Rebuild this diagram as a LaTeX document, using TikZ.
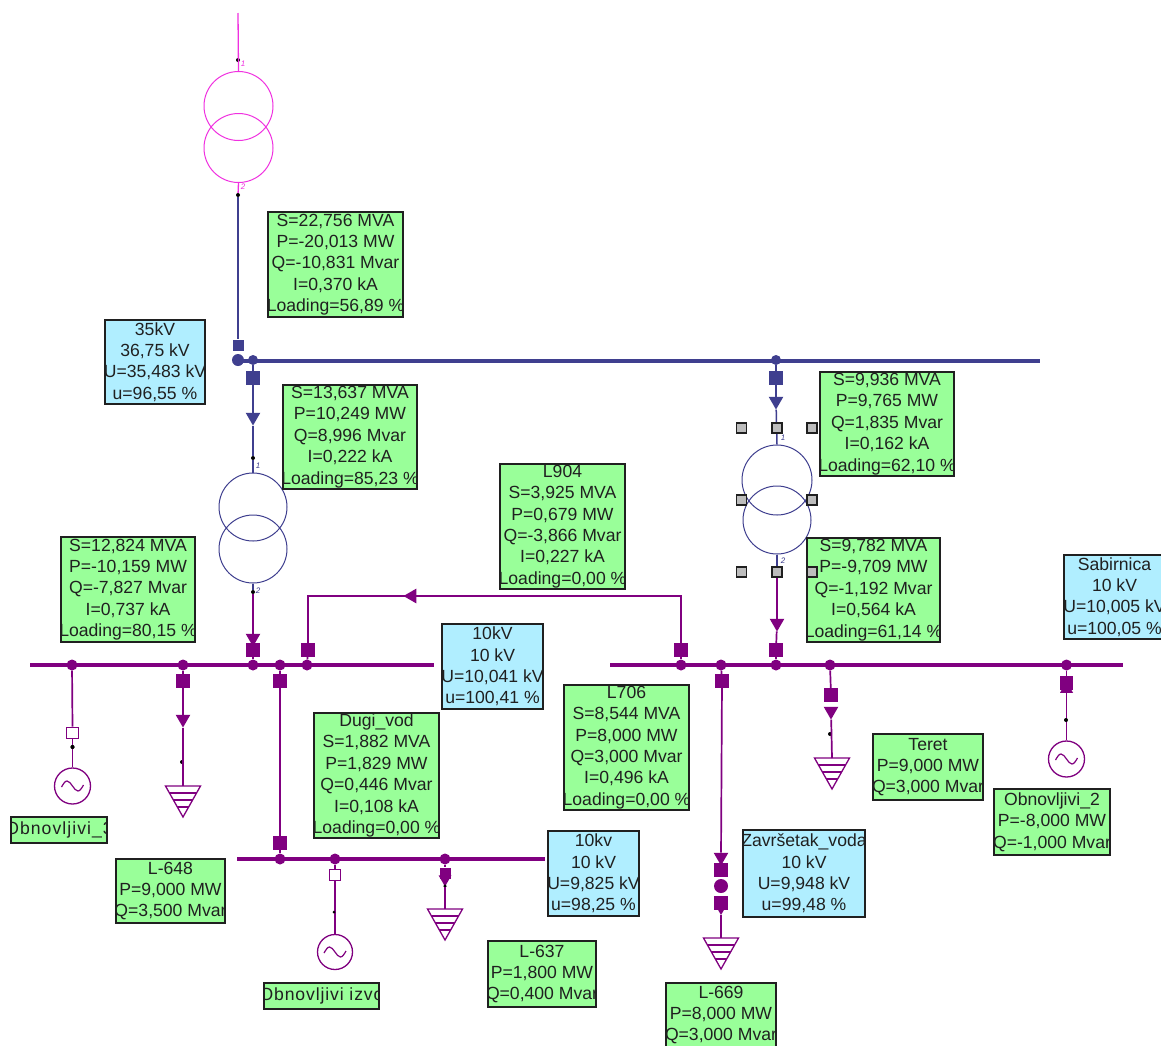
\documentclass[tikz,border=0pt]{standalone}
\usepackage{fontspec}
\setmainfont{Liberation Sans}
\usetikzlibrary{shapes.geometric}
\definecolor{navyl}{HTML}{3F3F8F}
\definecolor{purp}{HTML}{800080}
\definecolor{magl}{HTML}{F030E0}
\definecolor{boxgreen}{HTML}{99FF99}
\definecolor{boxblue}{HTML}{B0EEFF}
\definecolor{inkc}{HTML}{202020}
\definecolor{handle}{HTML}{BDBDBD}
\tikzset{
  infobox/.style={rectangle,draw=inkc,line width=1.3pt,inner sep=0pt},
  boxtext/.style={inner sep=0pt,align=center,text=inkc,font=\fontsize{17.6}{21.4}\selectfont},
  busdot/.style={circle,inner sep=0pt,minimum size=11pt},
  sqr/.style={rectangle,inner sep=0pt,minimum size=13.5pt},
  wsqr/.style={rectangle,fill=white,line width=1.3pt,inner sep=0pt,minimum size=11.5pt},
  trid/.style={regular polygon,regular polygon sides=3,shape border rotate=180,inner sep=0pt,minimum size=17pt},
  triu/.style={regular polygon,regular polygon sides=3,inner sep=0pt,minimum size=17pt},
  tril/.style={regular polygon,regular polygon sides=3,shape border rotate=90,inner sep=0pt,minimum size=17pt},
  tick/.style={circle,fill=black,inner sep=0pt,minimum size=4pt},
  handlebox/.style={rectangle,draw=inkc,fill=handle,line width=1.1pt,inner sep=0pt,minimum size=10pt},
  wind/.style={circle,inner sep=0pt,line width=1pt,minimum size=#1},
  gen/.style={circle,inner sep=0pt,line width=1.3pt,minimum size=#1},
  buspur/.style={purp,line width=4pt},
  busnav/.style={navyl,line width=4pt},
  linepur/.style={purp,line width=1.7pt},
  linenav/.style={navyl,line width=1.5pt},
  linemag/.style={magl,line width=1.3pt},
  numlab/.style={inner sep=0pt,font=\fontsize{8}{8}\selectfont\itshape}
}
% name, x1, y1, x2, y2, colour, text
\newcommand{\ibox}[7]{%
  \pgfmathsetmacro{\ww}{#4-#2}\pgfmathsetmacro{\hh}{#5-#3}%
  \node[infobox,fill=#6,minimum width=\ww pt,minimum height=\hh pt] (#1) at ({(#2+#4)/2},{(#3+#5)/2}) {};
  \begin{scope}
    \clip (#1.south west) rectangle (#1.north east);
    \node[boxtext] (#1t) at (#1.center) {#7};
  \end{scope}
  \draw[inkc,line width=1.3pt] (#1.south west) rectangle (#1.north east);
}
\newcommand{\loadsym}[3]{%
  \coordinate (#1) at (#2,#3);
  \begin{scope}[shift={(#1)},purp,line width=1.3pt]
    \draw (-17.5,0) -- (17.5,0) -- (0,31) -- cycle;
    \draw (-13.6,7) -- (13.6,7);
    \draw (-9.6,14) -- (9.6,14);
    \draw (-5.6,21) -- (5.6,21);
  \end{scope}
}
\newcommand{\sinewave}[1]{%
  \draw[shift={(#1)},purp,line width=1.2pt] (-11,1) sin (-5.5,-5) cos (0,0) sin (5.5,5) cos (11,-1);
}
\begin{document}
\begin{tikzpicture}[x=1pt,y=-1pt]
\useasboundingbox (0,0) rectangle (1161,1045);
\fill[white] (0,0) rectangle (1161,1045);

% --- buses
\coordinate (b35l) at (237,360.5);
\coordinate (b35r) at (1040,360.5);
\coordinate (bLl) at (30,665);
\coordinate (bLr) at (434,665);
\coordinate (bRl) at (610,665);
\coordinate (bRr) at (1123,665);
\coordinate (bBl) at (237,859);
\coordinate (bBr) at (545,859);
\draw[busnav] (b35l) -- (b35r);
\draw[buspur] (bLl) -- (bLr);
\draw[buspur] (bRl) -- (bRr);
\draw[buspur] (bBl) -- (bBr);

% --- 35 kV bus nodes
\node[busdot,fill=navyl,minimum size=12pt] (n35a) at (238,360) {};
\node[busdot,fill=navyl,minimum size=10pt] (n35b) at (253,360) {};
\node[busdot,fill=navyl,minimum size=10pt] (n35c) at (776,360) {};

% --- top transformer
\coordinate (feed) at (238,13);
\node[wind=69pt,draw=magl] (t1a) at (238.5,106) {};
\node[wind=69pt,draw=magl] (t1b) at (238.5,148) {};
\node[tick] (t1k1) at (238,60) {};
\node[tick] (t1k2) at (238,195) {};
\node[numlab,text=magl] at (243,64) {1};
\node[numlab,text=magl] at (243,187) {2};
\node[sqr,fill=navyl,minimum size=11pt] (t1s) at (238,345) {};
\draw[linemag] (feed) -- (t1a.north);
\draw[linemag] (t1b.south) -- (t1k2);
\draw[linenav] (t1k2) -- (t1s);

% --- second transformer (navy, left)
\node[sqr,fill=navyl] (t2s1) at (253,378) {};
\node[trid,fill=navyl] (t2a1) at (253,417) {};
\node[tick] (t2k1) at (253,458) {};
\node[numlab,text=navyl] at (258,466) {1};
\node[wind=68pt,draw=navyl] (t2a) at (253,507) {};
\node[wind=68pt,draw=navyl] (t2b) at (253,549) {};
\node[tick] (t2k2) at (253,592) {};
\node[numlab,text=navyl] at (258,591) {2};
\node[trid,fill=purp] (t2a2) at (253,638) {};
\node[sqr,fill=purp] (t2s2) at (253,650) {};
\node[busdot,fill=purp] (nL3) at (253,665) {};
\draw[linenav] (n35b) -- (t2s1);
\draw[linenav] (t2s1) -- (t2a1);
\draw[linenav] (t2a1) -- (t2k1);
\draw[linenav] (t2k1) -- (t2a.north);
\draw[linenav] (t2b.south) -- (t2k2);
\draw[linepur] (t2k2) -- (t2a2);
\draw[linepur] (t2s2) -- (nL3);

% --- third transformer (selected, right)
\node[sqr,fill=navyl] (t3s1) at (776,378) {};
\node[trid,fill=navyl] (t3a1) at (776,401) {};
\node[wind=70pt,draw=navyl] (t3a) at (777,480) {};
\node[wind=68pt,draw=navyl] (t3b) at (777,520) {};
\node[numlab,text=navyl] at (783,438) {1};
\node[numlab,text=navyl] at (783,561) {2};
\node[trid,fill=purp] (t3a2) at (777,623) {};
\node[sqr,fill=purp] (t3s2) at (776,650) {};
\node[busdot,fill=purp] (nR3) at (776,665) {};
\draw[linenav] (n35c) -- (t3s1);
\draw[linenav] (t3s1) -- (t3a1);
\draw[linenav] (t3a1) -- (t3a.north);
\draw[linenav] (t3b.south) -- (777,572);
\draw[linepur] (777,572) -- (t3a2);
\draw[linepur] (t3a2) -- (t3s2);
\draw[linepur] (t3s2) -- (nR3);
\node[handlebox] (h1) at (741.5,428) {};
\node[handlebox] (h2) at (777,428) {};
\node[handlebox] (h3) at (812,428) {};
\node[handlebox] (h4) at (741.5,500) {};
\node[handlebox] (h5) at (812,500) {};
\node[handlebox] (h6) at (741.5,572) {};
\node[handlebox] (h7) at (777,572) {};

% --- L904 line between the 10 kV bars
\node[busdot,fill=purp] (nL5) at (307,665) {};
\node[busdot,fill=purp] (nR1) at (681,665) {};
\node[sqr,fill=purp] (lfs1) at (308,650) {};
\node[sqr,fill=purp] (lfs2) at (681,650) {};
\node[tril,fill=purp] (lfa) at (412,596) {};
\coordinate (lfc1) at (308,596);
\coordinate (lfc2) at (681,596);
\draw[linepur] (nL5) -- (lfs1);
\draw[linepur] (lfs1) -- (lfc1) -- (lfc2) -- (lfs2);
\draw[linepur] (lfs2) -- (nR1);

% --- left bar: renewable 3
\node[busdot,fill=purp] (nL1) at (72,665) {};
\node[wsqr,draw=purp] (g3s) at (72.5,733) {};
\node[tick] (g3k) at (72.5,747) {};
\node[gen=36pt,draw=purp] (g3) at (72.5,786) {};
\sinewave{g3}
\draw[linepur] (nL1) -- (g3s.north);
\draw[linepur] (g3s.south) -- (g3.north);
\node[tick] at (72.5,747) {};

% --- left bar: load L-648
\node[busdot,fill=purp] (nL2) at (183,665) {};
\node[sqr,fill=purp] (l1s) at (183,681) {};
\node[trid,fill=purp] (l1a) at (183,719) {};
\node[tick] (l1k) at (182,762) {};
\loadsym{l1}{183}{786}
\draw[linepur] (nL2) -- (l1s);
\draw[linepur] (l1s) -- (l1a);
\draw[linepur] (l1a) -- (l1);

% --- Dugi_vod
\node[busdot,fill=purp] (nL4) at (280,665) {};
\node[sqr,fill=purp] (dvs1) at (280,681) {};
\node[sqr,fill=purp] (dvs2) at (280,843) {};
\node[busdot,fill=purp] (nB1) at (280,859) {};
\draw[linepur] (nL4) -- (dvs1);
\draw[linepur] (dvs1) -- (dvs2);
\draw[linepur] (dvs2) -- (nB1);

% --- bottom bar: renewable source
\node[busdot,fill=purp] (nB2) at (335,859) {};
\node[wsqr,draw=purp] (g1s) at (335,875) {};
\node[gen=35pt,draw=purp] (g1) at (335,952) {};
\sinewave{g1}
\draw[linepur] (nB2) -- (g1s.north);
\draw[linepur] (g1s.south) -- (g1.north);
\node[tick,minimum size=3pt] at (334,912) {};

% --- bottom bar: load L-637
\node[busdot,fill=purp] (nB3) at (445,859) {};
\node[sqr,fill=purp,minimum size=11pt] (l2s) at (445,873) {};
\node[trid,fill=purp,minimum size=15pt] (l2a) at (445,879) {};
\node[tick,minimum size=3.5pt] at (445,886) {};
\loadsym{l2}{445}{909}
\draw[linepur] (nB3) -- (l2s);
\draw[linepur] (l2a) -- (l2);

% --- right bar: load L-669 through Zavrsetak_voda
\node[busdot,fill=purp] (nR2) at (721,665) {};
\node[sqr,fill=purp] (l3s0) at (722,681) {};
\node[trid,fill=purp] (l3a) at (721,857) {};
\node[sqr,fill=purp] (l3s1) at (721,870) {};
\node[circle,fill=purp,inner sep=0pt,minimum size=14pt] (nV) at (721,886) {};
\node[sqr,fill=purp] (l3s2) at (721,903) {};
\node[trid,fill=purp,minimum size=12pt] (l3a2) at (721,909) {};
\loadsym{l3}{721}{938}
\draw[linepur] (nR2) -- (l3s0);
\draw[linepur] (l3s0) -- (l3a);
\draw[linepur] (l3a2) -- (l3);

% --- right bar: load Teret
\node[busdot,fill=purp] (nR4) at (830,665) {};
\node[sqr,fill=purp] (l4s) at (831,695) {};
\node[trid,fill=purp] (l4a) at (831,711) {};
\node[tick] at (830,734) {};
\loadsym{l4}{832}{758}
\draw[linepur] (nR4) -- (l4s);
\draw[linepur] (l4a) -- (l4);

% --- right bar: renewable 2
\node[busdot,fill=purp] (nR5) at (1066.5,665) {};
\node[sqr,fill=purp] (g2s) at (1066.5,683) {};
\node[triu,fill=purp,minimum size=15pt] (g2a) at (1066.5,689) {};
\node[gen=36pt,draw=purp] (g2) at (1066.5,759) {};
\sinewave{g2}
\draw[linepur] (nR5) -- (g2s);
\draw[linepur] (g2a) -- (g2.north);
\node[tick] at (1066,720) {};

% --- information boxes
\ibox{iA}{268}{212}{403}{317}{boxgreen}{S=22,756 MVA\\P=-20,013 MW\\Q=-10,831 Mvar\\I=0,370 kA\\Loading=56,89 \%}
\ibox{iB}{105}{320}{205}{404}{boxblue}{35kV\\36,75 kV\\U=35,483 kV\\u=96,55 \%}
\ibox{iC}{283}{385}{417}{489}{boxgreen}{S=13,637 MVA\\P=10,249 MW\\Q=8,996 Mvar\\I=0,222 kA\\Loading=85,23 \%}
\ibox{iD}{820}{372}{954}{476}{boxgreen}{S=9,936 MVA\\P=9,765 MW\\Q=1,835 Mvar\\I=0,162 kA\\Loading=62,10 \%}
\ibox{iE}{807}{538}{940}{642}{boxgreen}{S=9,782 MVA\\P=-9,709 MW\\Q=-1,192 Mvar\\I=0,564 kA\\Loading=61,14 \%}
\node[handlebox] (h8) at (812,572) {};
\ibox{iF}{61}{537}{195}{642}{boxgreen}{S=12,824 MVA\\P=-10,159 MW\\Q=-7,827 Mvar\\I=0,737 kA\\Loading=80,15 \%}
\ibox{iG}{500}{464}{625}{589}{boxgreen}{L904\\S=3,925 MVA\\P=0,679 MW\\Q=-3,866 Mvar\\I=0,227 kA\\Loading=0,00 \%}
\ibox{iH}{442}{624}{543}{709}{boxblue}{10kV\\10 kV\\U=10,041 kV\\u=100,41 \%}
\ibox{iI}{564}{685}{689}{810}{boxgreen}{L706\\S=8,544 MVA\\P=8,000 MW\\Q=3,000 Mvar\\I=0,496 kA\\Loading=0,00 \%}
\ibox{iJ}{1064}{555}{1165}{639}{boxblue}{Sabirnica\\10 kV\\U=10,005 kV\\u=100,05 \%}
\ibox{iK}{314}{713}{439}{838}{boxgreen}{Dugi\_vod\\S=1,882 MVA\\P=1,829 MW\\Q=0,446 Mvar\\I=0,108 kA\\Loading=0,00 \%}
\ibox{iL}{548}{831}{639}{916}{boxblue}{10kv\\10 kV\\U=9,825 kV\\u=98,25 \%}
\ibox{iM}{743}{830}{865}{917}{boxblue}{Završetak\_voda\\10 kV\\U=9,948 kV\\u=99,48 \%}
\ibox{iN}{116}{859}{225}{923}{boxgreen}{L-648\\P=9,000 MW\\Q=3,500 Mvar}
\ibox{iO}{488}{941}{596}{1007}{boxgreen}{L-637\\P=1,800 MW\\Q=0,400 Mvar}
\ibox{iP}{666}{983}{776}{1047}{boxgreen}{L-669\\P=8,000 MW\\Q=3,000 Mvar}
\ibox{iQ}{11}{817}{107}{843}{boxgreen}{\addfontfeature{LetterSpace=6}Obnovljivi\_3}
\ibox{iR}{264}{983}{379}{1009}{boxgreen}{\addfontfeature{LetterSpace=5}Obnovljivi izvo}
\ibox{iS}{873}{734}{983}{800}{boxgreen}{Teret\\P=9,000 MW\\Q=3,000 Mvar}
\ibox{iT}{994}{789}{1110}{855}{boxgreen}{Obnovljivi\_2\\P=-8,000 MW\\Q=-1,000 Mvar}
\end{tikzpicture}
\end{document}
